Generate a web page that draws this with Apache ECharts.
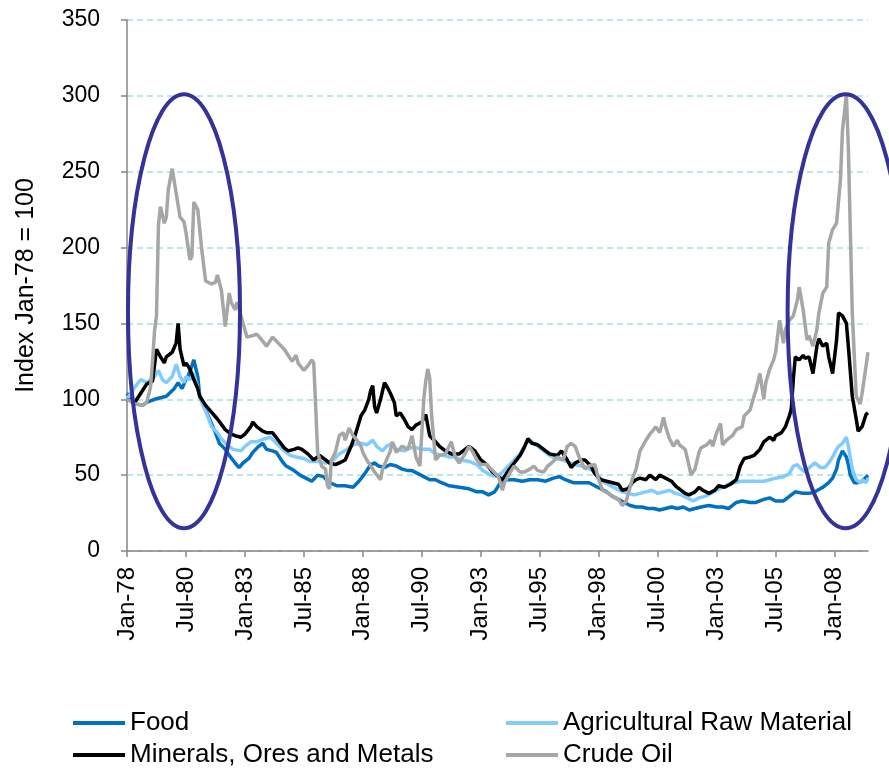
<!DOCTYPE html>
<html>
<head>
<meta charset="utf-8">
<script src="https://cdn.jsdelivr.net/npm/echarts@6/dist/echarts.min.js"></script>
<style>
  html, body { margin: 0; padding: 0; background: #fff; }
  #chart { width: 889px; height: 770px; }
</style>
</head>
<body>
<div id="chart"></div>
<script>
// months counted from Jan-78 (0) to Jun-09 (377)
const tickLabels = ['Jan-78', 'Jul-80', 'Jan-83', 'Jul-85', 'Jan-88', 'Jul-90', 'Jan-93',
  'Jul-95', 'Jan-98', 'Jul-00', 'Jan-03', 'Jul-05', 'Jan-08'];
const lastMonth = 377;

const seriesNames = ['Food', 'Agricultural Raw Material', 'Minerals, Ores and Metals', 'Crude Oil'];

// [month, index value]
const food = [[0,104],[4,97],[8,96],[10,98],[14,100],[20,102],[24,107],[26,111],[28,107],[30,113],[31,115],[33,122],[34,126],[36,115],[37,102],[40,93],[42,87],[45,78],[47,71],[50,67],[52,63],[55,58],[57,55],[59,58],[62,61],[64,65],[67,69],[69,71],[71,67],[74,66],[76,65],[79,59],[81,56],[85,53],[88,50],[91,48],
  [94,46],[97,50],[100,49],[103,45],[107,43],[111,43],[115,42],[118,46],[121,51],[124,57],[126,58],[128,56],[131,55],[134,57],[137,56],[140,54],[143,53],[145,53],[148,51],[151,49],[154,47],[157,47],[160,45],[164,43],[169,42],[174,41],[178,39],[181,39],[184,37],[187,39],[190,45],[193,47],[197,47],[201,46],[205,47],[209,47],[213,46],[217,48],[220,49],[223,47],[227,45],[231,45],[235,45],[238,43],[241,41],[244,39],[247,36],[250,34],[253,32],[256,30],[259,29],[262,29],[265,28],[268,28],[271,27],[274,28],[277,29],[280,28],[283,29],[286,27],[289,28],[292,29],[296,30],[300,29],[303,29],[306,28],[310,32],[313,33],[317,32],[320,32],[324,34],[327,35],[330,33],[334,33],[337,36],[340,39],[344,38],[347,38],[350,39],[354,42],[357,45],[359,48],[361,54],[362,60],[363,63],[364,66],[366,62],[367,57],[368,50],[370,45],[372,45],[374,46],[375,47],[377,50]];

const agriRaw = [[0,100],[4,108],[7,113],[10,111],[14,115],[16,119],[18,113],[20,111],[23,115],[25,123],[27,115],[29,111],[30,115],[32,113],[34,117],[36,107],[38,98],[41,89],[43,82],[46,78],[48,74],[51,70],[54,67],[58,66],[60,69],[63,72],[66,72],[70,74],[73,75],[76,71],[80,66],[83,63],[86,62],[90,61],
  [93,59],[97,59],[101,58],[105,60],[108,64],[112,67],[115,70],[119,71],[122,70],[125,73],[127,69],[130,66],[132,69],[135,71],[137,67],[141,66],[144,68],[147,68],[151,67],[154,67],[157,64],[161,63],[164,62],[167,62],[170,60],[174,59],[178,57],[181,53],[185,50],[188,49],[191,52],[194,56],[197,60],[200,64],[203,71],[205,73],[208,70],[212,66],[215,63],[218,61],[222,60],[225,58],[228,57],[231,56],[234,55],[237,53],[240,49],[243,45],[246,43],[249,41],[252,39],[255,38],[258,37],[261,38],[264,39],[267,40],[270,38],[273,39],[276,40],[279,38],[282,37],[285,35],[288,33],[291,35],[294,36],[297,38],[300,40],[303,42],[306,44],[309,45],[312,46],[316,46],[320,46],[324,46],[327,47],[330,48],[334,49],[337,51],[339,56],[341,57],[343,54],[345,52],[348,56],[350,58],[353,55],[355,55],[357,58],[359,62],[361,67],[362,69],[364,71],[366,75],[367,69],[369,54],[371,47],[373,45],[374,47],[376,45],[377,48]];

const minerals = [[0,100],[4,98],[7,104],[10,110],[13,112],[15,133],[17,128],[19,124],[20,128],[23,131],[25,137],[26,150],[27,133],[29,122],[30,124],[32,120],[34,113],[36,107],[37,102],[40,96],[42,93],[46,87],[47,87],[50,80],[53,77],[55,76],[58,75],[60,77],[63,82],[64,85],[66,82],[69,79],[71,78],[74,78],[77,73],[80,68],[82,66],[85,67],[87,68],[89,67],
  [92,64],[95,60],[98,63],[101,60],[103,58],[106,57],[108,58],[111,60],[114,69],[116,76],[119,89],[121,93],[123,100],[124,106],[125,109],[126,95],[127,91],[129,100],[131,111],[132,109],[134,104],[136,98],[137,89],[139,91],[141,87],[143,82],[145,80],[147,83],[150,85],[152,90],[154,76],[157,72],[159,69],[162,66],[165,64],[169,64],[174,69],[177,66],[180,60],[183,57],[186,52],[189,49],[191,47],[194,53],[197,58],[200,63],[202,68],[204,74],[206,71],[209,70],[212,67],[215,64],[219,63],[221,66],[224,60],[226,55],[228,58],[231,60],[233,60],[236,56],[238,51],[241,47],[244,46],[247,45],[250,44],[252,40],[255,41],[257,45],[259,47],[261,48],[264,47],[266,50],[269,47],[271,50],[274,48],[277,46],[279,43],[282,40],[284,38],[286,37],[289,39],[291,42],[293,40],[296,38],[299,40],[301,43],[304,42],[307,44],[310,47],[312,56],[314,61],[317,62],[319,63],[322,67],[324,72],[327,75],[329,73],[330,76],[333,78],[335,82],[337,89],[338,94],[339,113],[340,128],[342,126],[344,129],[345,127],[347,128],[349,117],[351,135],[352,140],[354,135],[356,137],[357,128],[359,117],[361,139],[362,157],[364,155],[366,150],[367,135],[369,102],[371,87],[372,79],[374,82],[376,90],[377,91]];

const crudeOil = [[0,100],[4,97],[8,96],[10,98],[12,108],[13,125],[14,145],[15,155],[16,215],[17,227],[19,216],[20,220],[21,238],[23,252],[25,236],[27,220],[29,217],[30,210],[32,192],[33,194],[34,230],[36,225],[38,199],[40,178],[43,176],[45,177],[46,182],[48,172],[50,148],[52,170],[53,164],[55,159],[56,164],[58,155],[61,141],[64,142],[66,143],[68,140],[71,135],[74,141],[77,137],[80,133],[81,131],[84,125],[86,129],[87,124],[90,119],[92,122],[94,126],[95,124],
  [96,95],[97,65],[99,56],[101,54],[102,43],[103,41],[104,60],[106,65],[108,76],[110,78],[111,73],[113,81],[115,76],[117,73],[119,69],[120,65],[122,60],[124,56],[126,52],[129,47],[130,54],[132,60],[134,66],[135,72],[137,65],[140,69],[143,67],[145,76],[147,62],[149,56],[151,100],[152,112],[153,120],[154,114],[155,89],[157,60],[159,63],[162,64],[165,72],[167,62],[169,58],[172,64],[174,69],[176,65],[178,60],[180,57],[183,57],[186,53],[189,49],[191,40],[192,45],[195,52],[197,56],[200,52],[202,52],[205,54],[207,56],[209,53],[212,52],[214,56],[216,58],[219,62],[222,60],[224,69],[226,71],[228,69],[230,62],[233,54],[235,56],[238,57],[240,47],[242,40],[245,38],[247,36],[250,34],[252,30],[254,33],[257,47],[259,54],[261,66],[264,73],[266,77],[268,80],[269,82],[271,78],[273,88],[274,82],[276,74],[278,69],[280,73],[281,70],[284,67],[286,56],[287,50],[289,54],[291,65],[292,68],[295,70],[297,73],[298,69],[300,78],[302,84],[303,70],[305,73],[308,76],[310,80],[313,82],[314,89],[317,93],[319,102],[320,106],[322,117],[324,100],[325,111],[327,120],[329,126],[330,131],[332,152],[334,137],[335,146],[337,152],[339,155],[341,165],[342,174],[344,159],[346,139],[347,142],[349,135],[351,146],[352,157],[354,170],[356,174],[357,203],[359,212],[361,216],[363,245],[364,277],[366,301],[367,266],[369,157],[371,102],[373,97],[374,104],[376,122],[377,131]];

const seriesData = [food, agriRaw, minerals, crudeOil];
const seriesColors = ['#0070c0', '#80ccff', '#000000', '#a6a6a6'];

// circled periods: centre [month, value], half width in months, half height in index points
const highlights = [
  { center: [29, 158], halfWidth: 28.5, halfHeight: 143 },
  { center: [365.6, 158], halfWidth: 29.5, halfHeight: 143 }
];

const fontFamily = '"Liberation Sans", Arial, sans-serif';
const axisGray = '#868686';

// legend in two columns: [series index, left, top]
const legendSlots = [[0, 73, 710], [2, 73, 742], [1, 506, 710], [3, 506, 742]];

var myChart = echarts.init(document.getElementById('chart'));

const option = {
  animation: false,
  textStyle: { fontFamily: fontFamily },
  grid: { left: 127, right: 21, top: 20, bottom: 219 },
  legend: legendSlots.map(s => ({
    data: [seriesNames[s[0]]],
    left: s[1],
    top: s[2],
    padding: 0,
    icon: 'rect',
    itemWidth: 52,
    itemHeight: 4,
    textStyle: { fontSize: 26, color: '#000', lineHeight: 26, fontFamily: fontFamily }
  })),
  xAxis: {
    type: 'value',
    min: 0,
    max: lastMonth,
    interval: 30,
    axisLine: { lineStyle: { color: axisGray, width: 1.5 } },
    axisTick: {
      show: true,
      length: 6,
      lineStyle: { color: axisGray, width: 1.5 },
      customValues: tickLabels.map((t, i) => i * 30)
    },
    axisLabel: {
      rotate: 90,
      margin: 16,
      fontSize: 24,
      color: '#000',
      customValues: tickLabels.map((t, i) => i * 30),
      formatter: function (value) {
        return value % 30 === 0 ? (tickLabels[value / 30] || '') : '';
      }
    },
    splitLine: { show: false }
  },
  yAxis: {
    type: 'value',
    min: 0,
    max: 350,
    interval: 50,
    name: 'Index Jan-78 = 100',
    nameLocation: 'middle',
    nameGap: 88,
    nameTextStyle: { fontSize: 25, color: '#000' },
    axisLine: { show: true, lineStyle: { color: axisGray, width: 1.5 } },
    axisTick: { show: true, length: 6, lineStyle: { color: axisGray, width: 1.5 } },
    axisLabel: { margin: 27, fontSize: 23, color: '#000' },
    splitLine: {
      show: true,
      lineStyle: { color: '#a8dbe2', width: 1.5, type: [6, 4] }
    }
  },
  series: seriesNames.map((name, i) => ({
    name: name,
    type: 'line',
    data: seriesData[i],
    symbol: 'none',
    showSymbol: false,
    itemStyle: { color: seriesColors[i] },
    lineStyle: { color: seriesColors[i], width: 3.5 }
  }))
};

myChart.setOption(option);

// draw the two ellipses in axis units
const rings = highlights.map(h => {
  const c = myChart.convertToPixel({ gridIndex: 0 }, h.center);
  const e = myChart.convertToPixel({ gridIndex: 0 }, [h.center[0] + h.halfWidth, h.center[1] + h.halfHeight]);
  return {
    type: 'ellipse',
    z: 100,
    shape: { cx: c[0], cy: c[1], rx: Math.abs(e[0] - c[0]), ry: Math.abs(c[1] - e[1]) },
    style: { fill: 'none', stroke: '#333399', lineWidth: 4 }
  };
});
myChart.setOption({ graphic: rings });
</script>
</body>
</html>
